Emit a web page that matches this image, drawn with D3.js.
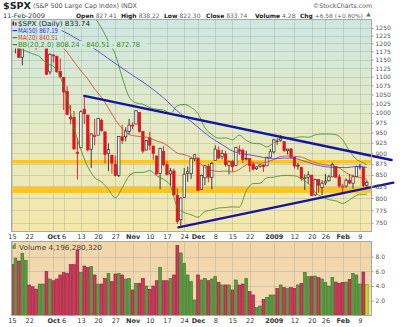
<!DOCTYPE html>
<html><head><meta charset="utf-8">
<script src="https://cdn.jsdelivr.net/npm/d3@7"></script>
<style>body{margin:0;background:#fff}svg{display:block}text{font-family:"DejaVu Sans",Verdana,sans-serif}</style>
</head><body><svg id="c" width="400" height="327"></svg>
<script>
// ---------- DATA ----------
const dates = ["2008-09-15","2008-09-16","2008-09-17","2008-09-18","2008-09-19","2008-09-22","2008-09-23","2008-09-24","2008-09-25","2008-09-26","2008-09-29","2008-09-30",
"2008-10-01","2008-10-02","2008-10-03","2008-10-06","2008-10-07","2008-10-08","2008-10-09","2008-10-10","2008-10-13","2008-10-14","2008-10-15","2008-10-16","2008-10-17","2008-10-20","2008-10-21","2008-10-22","2008-10-23","2008-10-24","2008-10-27","2008-10-28","2008-10-29","2008-10-30","2008-10-31",
"2008-11-03","2008-11-04","2008-11-05","2008-11-06","2008-11-07","2008-11-10","2008-11-11","2008-11-12","2008-11-13","2008-11-14","2008-11-17","2008-11-18","2008-11-19","2008-11-20","2008-11-21","2008-11-24","2008-11-25","2008-11-26","2008-11-28",
"2008-12-01","2008-12-02","2008-12-03","2008-12-04","2008-12-05","2008-12-08","2008-12-09","2008-12-10","2008-12-11","2008-12-12","2008-12-15","2008-12-16","2008-12-17","2008-12-18","2008-12-19","2008-12-22","2008-12-23","2008-12-24","2008-12-26","2008-12-29","2008-12-30","2008-12-31",
"2009-01-02","2009-01-05","2009-01-06","2009-01-07","2009-01-08","2009-01-09","2009-01-12","2009-01-13","2009-01-14","2009-01-15","2009-01-16","2009-01-20","2009-01-21","2009-01-22","2009-01-23","2009-01-26","2009-01-27","2009-01-28","2009-01-29","2009-01-30",
"2009-02-02","2009-02-03","2009-02-04","2009-02-05","2009-02-06","2009-02-09","2009-02-10","2009-02-11"];
const open = [1250.92,1188.31,1210.34,1157.08,1213.11,1255.37,1207.61,1188.79,1187.87,1204.47,1209.07,1113.78,
1164.17,1160.64,1115.16,1097.56,1057.60,988.91,988.42,902.31,912.75,1009.97,994.60,909.53,942.29,943.51,980.40,951.67,899.08,895.22,874.28,848.92,939.51,939.38,953.11,
968.67,971.31,1001.84,952.40,907.44,936.75,917.15,893.39,853.13,904.36,873.23,852.34,859.03,805.87,755.84,801.20,853.40,852.90,886.89,
888.61,817.94,843.60,869.75,844.43,882.71,906.48,892.17,898.35,871.79,881.07,871.53,908.16,905.98,886.96,887.20,874.31,863.87,869.51,872.37,870.58,890.59,
902.99,929.17,931.17,927.45,905.73,909.91,890.40,869.79,867.28,841.99,844.45,849.64,806.77,839.74,822.16,832.50,837.30,845.73,868.89,845.69,
823.09,825.69,837.77,831.75,846.09,868.24,866.87,827.41];
const high = [1250.92,1214.84,1210.34,1211.14,1265.12,1255.37,1213.11,1197.41,1220.03,1215.77,1209.07,1169.33,
1167.03,1160.64,1153.82,1097.56,1072.91,1021.06,1005.25,936.36,1006.93,1044.31,994.60,947.71,984.64,985.40,985.44,951.67,922.83,896.30,893.78,940.51,969.97,963.23,984.38,
975.57,1007.51,1001.84,952.40,931.46,951.95,917.15,893.39,913.01,916.88,882.29,865.90,864.57,820.52,801.20,865.60,868.94,887.68,896.25,
888.61,850.54,873.12,875.60,879.42,918.57,916.26,908.27,904.63,883.24,884.63,914.66,918.85,911.02,905.47,887.37,880.44,869.79,873.74,873.70,891.12,910.32,
934.73,936.63,943.85,927.45,910.00,911.93,890.40,877.02,867.28,851.59,858.13,849.64,841.72,839.74,838.61,852.53,850.45,877.86,868.89,851.66,
830.78,842.60,851.85,850.55,870.75,875.01,868.05,838.22];
const low = [1192.70,1169.28,1155.88,1133.50,1213.11,1205.61,1187.80,1179.79,1187.87,1187.54,1106.39,1106.42,
1140.77,1111.43,1098.14,1007.97,996.23,970.97,909.19,839.80,912.75,972.07,903.99,865.83,918.74,943.51,952.47,875.81,858.44,852.85,846.75,845.27,922.26,928.50,944.59,
958.82,971.31,949.86,899.73,906.90,907.47,884.90,850.48,818.69,869.88,848.98,826.84,806.18,747.78,741.02,801.20,834.99,841.37,881.21,
815.69,817.94,827.60,833.60,818.41,882.71,885.38,885.45,868.73,851.35,857.72,871.53,895.94,877.44,883.02,857.09,860.10,861.44,866.52,857.07,870.58,889.67,
899.35,919.53,927.28,902.37,896.81,888.31,864.32,862.02,836.93,817.04,830.66,804.47,804.30,811.29,806.07,827.69,835.40,845.73,844.15,821.67,
812.87,821.98,829.18,819.91,845.42,861.65,822.99,822.30];
const close = [1192.70,1213.60,1156.39,1206.51,1255.08,1207.09,1188.22,1185.87,1209.18,1213.27,1106.39,1166.36,
1161.06,1114.28,1099.23,1056.89,996.23,984.94,909.92,899.22,1003.35,998.01,907.84,946.43,940.55,985.40,955.05,896.78,908.11,876.77,848.92,940.51,930.09,954.09,968.75,
966.30,1005.75,952.77,904.88,930.99,919.21,898.95,852.30,911.29,873.29,850.75,859.12,806.58,752.44,800.03,851.81,857.39,887.68,896.24,
816.21,848.81,870.74,845.22,876.07,909.70,888.67,899.24,873.59,879.73,868.57,913.18,904.42,885.28,887.88,871.63,863.16,868.15,872.80,869.42,890.64,903.25,
931.80,927.45,934.70,906.65,909.73,890.35,870.26,871.79,842.62,843.74,850.12,805.22,840.24,827.50,831.95,836.57,845.71,874.09,845.14,825.88,
825.44,838.51,832.23,845.85,868.60,869.89,827.16,833.74];
const priorClose = 1251.70;
// volume, billions of shares
const volume = [6.95,7.8,7.4,8.45,7.5,4.14,3.9,3.59,4.27,4.27,5.95,4.95,4.72,4.95,5.5,5.81,5.72,6.9,6.9,8.9,
5.86,6.72,6.54,6.63,5.5,4.27,4.27,5.04,5.72,4.59,5.63,5.72,5.5,4.95,5.04,3.46,4.37,4.37,5.04,4.0,
3.55,4.0,4.72,6.54,4.72,4.72,5.04,5.5,9.5,8.5,7.09,5.5,4.6,2.1,5.5,4.82,5.04,4.72,4.95,5.27,
4.5,4.14,4.14,4.14,3.46,4.82,4.14,4.27,5.04,3.23,2.78,1.05,1.28,2.19,2.46,2.78,2.78,3.68,4.14,3.77,
3.64,3.77,3.68,4.14,4.37,5.86,5.27,5.27,5.36,5.13,4.95,4.45,4.0,5.18,4.54,4.37,4.5,4.54,4.91,5.72,
5.5,4.27,5.9,4.196];
// indicator overlays (sampled at trading-day index)
const bandIdx = [0,2,4,6,8,10,12,14,16,18,20,22,24,26,28,30,32,34,36,38,40,42,44,46,48,50,52,54,56,58,60,62,64,66,68,70,72,74,76,78,80,82,84,86,88,90,92,94,96,98,100,101,102,103];
const ma20 = [1262.1,1253.4,1248.8,1240.7,1232.8,1219.6,1208.3,1195.0,1173.1,1143.8,1116.7,1093.5,1064.7,1042.0,1012.5,982.8,959.9,945.4,941.3,939.5,
936.9,929.1,924.0,912.5,900.2,896.5,890.2,879.7,867.1,860.3,857.7,858.7,856.9,862.3,873.0,877.2,877.0,879.3,885.1,892.2,
893.1,892.5,890.8,884.6,878.2,874.4,871.5,869.5,860.3,850.7,845.6,844.6,842.4,840.5];
const bbUpper = [1313.9,1323.0,1320.8,1313.7,1305.8,1300.2,1286.3,1290.8,1305.7,1326.0,1325.1,1318.5,1285.1,1249.4,1206.5,1165.2,1097.9,1043.2,1026.9,1023.3,
1014.1,1009.9,1007.8,998.9,1019.2,1022.7,1014.6,998.5,961.9,945.1,935.9,936.9,931.9,943.5,930.8,923.4,922.4,914.7,925.1,936.0,
937.3,936.9,939.8,938.2,944.2,946.4,946.3,944.7,931.7,905.1,885.6,881.0,877.2,872.8];
const bbLower = [1210.3,1183.8,1176.8,1167.7,1159.8,1139.0,1130.3,1099.2,1040.5,961.6,908.3,868.5,844.3,834.6,818.5,800.4,821.9,847.6,855.7,855.7,
859.7,848.3,840.2,826.1,781.2,770.3,765.8,760.9,772.3,775.5,779.5,780.5,781.9,781.1,815.2,831.0,831.6,843.9,845.1,848.4,
848.9,848.1,841.8,831.0,812.2,802.4,796.7,794.3,788.9,796.3,805.6,808.2,807.6,808.2];
const ma50Idx = [9,14,19,24,29,34,39,44,49,52,55,58,61,64,67,70,73,76,79,82,85,88,91,94,97,100,103];
const ma50 = [1256.7,1243.0,1213.8,1182.7,1145.8,1110.7,1077.7,1040.5,997.4,978.0,955.9,936.1,920.3,905.2,898.5,894.7,889.9,886.8,888.5,887.6,880.9,873.6,868.5,867.1,866.5,869.4,867.2];
// annotations: [trading-day index, price]
const trendUpper = [[21,1046],[110.2,884]];
const trendLower = [[48.3,741],[110.7,833]];
const bandZones = [[876,884],[811,824]];
// ticks
const priceTicks = [750,775,800,825,850,875,900,925,950,975,1000,1025,1050,1075,1100,1125,1150,1175,1200,1225,1250];
const volTicks = [2,4,6,8];
const volTickLabels = ["2.0","4.0","6.0","8.0"];
const xTickDates = ["2008-09-15","2008-09-22","2008-10-01","2008-10-06","2008-10-13","2008-10-20","2008-10-27","2008-11-03","2008-11-10","2008-11-17","2008-11-24","2008-12-01","2008-12-08","2008-12-15","2008-12-22","2009-01-02","2009-01-12","2009-01-20","2009-01-26","2009-02-02","2009-02-09"];
const xTickLabels = ["15","22","Oct","6","13","20","27","Nov","10","17","24","Dec","8","15","22","2009","12","20","26","Feb","9"];
const boldLabels = new Set(["Oct","Nov","Dec","2009","Feb"]);

// ---------- LAYOUT ----------
const P = {l:11.5, r:371.5, t:19.5, b:231.5};
const V = {t:241.5, b:315.5};
const svg = d3.select("#c");
const x = d3.scaleLinear().domain([0, dates.length-1]).range([12, 366.8]);
const y = d3.scaleLog().domain([750,1250]).range([222.7, 27.9]);
const yv = d3.scaleLinear().domain([0,10]).range([315.4, 241.9]);
const tickIdx = xTickDates.map(d => dates.indexOf(d));

const defs = svg.append("defs");
const gr = defs.append("linearGradient").attr("id","bg").attr("gradientUnits","userSpaceOnUse")
  .attr("x1",0).attr("y1",P.t).attr("x2",0).attr("y2",P.b);
gr.append("stop").attr("offset","0%").attr("stop-color","#cde7e2");
gr.append("stop").attr("offset","45%").attr("stop-color","#e2eac8");
gr.append("stop").attr("offset","100%").attr("stop-color","#f6e7aa");
const gv = defs.append("linearGradient").attr("id","vbg").attr("x1",0).attr("y1",0).attr("x2",0).attr("y2",1);
gv.append("stop").attr("offset","0%").attr("stop-color","#f1d5ab");
gv.append("stop").attr("offset","100%").attr("stop-color","#f4dcb4");
defs.append("clipPath").attr("id","clipP").append("rect").attr("x",P.l).attr("y",P.t).attr("width",P.r-P.l).attr("height",P.b-P.t);
defs.append("clipPath").attr("id","clipV").append("rect").attr("x",P.l).attr("y",V.t).attr("width",P.r-P.l).attr("height",V.b-V.t);

// backgrounds
svg.append("rect").attr("x",P.l).attr("y",P.t).attr("width",P.r-P.l).attr("height",P.b-P.t).attr("fill","url(#bg)");
svg.append("rect").attr("x",P.l).attr("y",V.t).attr("width",P.r-P.l).attr("height",V.b-V.t).attr("fill","url(#vbg)");

// grid
const grid = svg.append("g").attr("stroke","#9aa393").attr("stroke-opacity",0.35).attr("stroke-width",1);
priceTicks.forEach(p => { const yy = Math.round(y(p))+0.5;
  grid.append("line").attr("x1",P.l).attr("x2",P.r).attr("y1",yy).attr("y2",yy); });
tickIdx.forEach(i => { const xx = Math.round(x(i))+0.5;
  grid.append("line").attr("x1",xx).attr("x2",xx).attr("y1",P.t).attr("y2",P.b);
  grid.append("line").attr("x1",xx).attr("x2",xx).attr("y1",V.t).attr("y2",V.b); });
volTicks.forEach(v => { const yy = Math.round(yv(v))+0.5;
  grid.append("line").attr("x1",P.l).attr("x2",P.r).attr("y1",yy).attr("y2",yy); });

const main = svg.append("g").attr("clip-path","url(#clipP)");
// orange support/resistance zones
bandZones.forEach(b => main.append("rect").attr("x",P.l).attr("width",P.r-P.l)
  .attr("y",y(b[1])).attr("height",y(b[0])-y(b[1])).attr("fill","#ffc41f"));

// candles
const cw = 2.4;
dates.forEach((d,i) => {
  const o=open[i], h=high[i], l=low[i], c=close[i];
  const pc = i ? close[i-1] : priorClose;
  const col = c < pc ? "#e3121b" : "#2a2a2a";
  const filled = c < o;
  const cx = x(i);
  main.append("line").attr("x1",cx).attr("x2",cx).attr("y1",y(h)).attr("y2",y(l)).attr("stroke",col).attr("stroke-width",0.9);
  const yt = y(Math.max(o,c)), yb = y(Math.min(o,c));
  main.append("rect").attr("x",cx-cw/2).attr("width",cw).attr("y",yt).attr("height",Math.max(0.8,yb-yt))
    .attr("fill", filled ? col : "#fbf8ee").attr("stroke",col).attr("stroke-width",0.7);
});

// overlays
const line = d3.line().x(d=>x(d[0])).y(d=>y(d[1])).curve(d3.curveMonotoneX);
const ov = (idx, vals, color) => main.append("path").attr("d", line(idx.map((k,j)=>[k, vals[j]])))
  .attr("fill","none").attr("stroke",color).attr("stroke-width",0.8);
ov(bandIdx, bbUpper, "#3c8c2c");
ov(bandIdx, bbLower, "#3c8c2c");
ov(bandIdx, ma20, "#d0402c");
ov(ma50Idx, ma50, "#3a3ad6");

// trend lines (extend past plot edge)
const tl = d3.line().x(d=>x(d[0])).y(d=>y(d[1]));
[trendUpper, trendLower].forEach(t => svg.append("path").attr("d", tl(t)).attr("fill","none")
  .attr("stroke","#1414a0").attr("stroke-width",2.4).attr("stroke-linecap","round"));

// legend boxes covering the plot
const leg = [
  {y0:20, y1:27, w:93, text:"$SPX (Daily) 833.74", col:"#222", len:72},
  {y0:27, y1:34, w:61, text:"MA(50) 867.19", col:"#3535d0", len:40},
  {y0:34, y1:41, w:61, text:"MA(20) 840.51", col:"#e03a2a", len:40},
  {y0:41, y1:48.5, w:146, text:"BB(20,2.0) 808.24 - 840.51 - 872.78", col:"#3a8a2a", len:122}
];
leg.forEach((r,k) => {
  svg.append("rect").attr("x",P.l+0.5).attr("y",r.y0).attr("width",r.w-P.l).attr("height",r.y1-r.y0).attr("fill","url(#bg)");
  svg.append("text").attr("x",18).attr("y",r.y0+6).attr("font-size",7).attr("fill",r.col)
    .attr("textLength",r.len).attr("lengthAdjust","spacingAndGlyphs").text(r.text);
  if (k>0) svg.append("line").attr("x1",12.5).attr("x2",17).attr("y1",r.y0+3.6).attr("y2",r.y0+3.6).attr("stroke",r.col).attr("stroke-width",1.2);
});
// candle icon
svg.append("rect").attr("x",12.5).attr("y",21.5).attr("width",1.6).attr("height",4).attr("fill","#333");
svg.append("rect").attr("x",15).attr("y",22.5).attr("width",1.6).attr("height",3).attr("fill","#e3121b");

// volume
const vg = svg.append("g").attr("clip-path","url(#clipV)");
volume.forEach((v,i) => {
  const up = close[i] >= (i ? close[i-1] : priorClose);
  const last = i === volume.length-1;
  vg.append("rect").attr("x",x(i)-1.4).attr("width",2.8).attr("y",yv(v)).attr("height",yv(0)-yv(v))
    .attr("fill", last ? "#b6e31e" : up ? "#5c9a46" : "#c73c5a")
    .attr("stroke", last ? "#7f9a12" : up ? "#3b7428" : "#9c1636").attr("stroke-width",0.6);
});
svg.append("rect").attr("x",12.5).attr("y",245).attr("width",1.4).attr("height",4).attr("fill","#4f8f3c");
svg.append("rect").attr("x",14.3).attr("y",243.5).attr("width",1.4).attr("height",5.5).attr("fill","#4f8f3c");
svg.append("text").attr("x",19).attr("y",249.6).attr("font-size",7).attr("fill","#444")
  .attr("textLength",83).attr("lengthAdjust","spacingAndGlyphs").text("Volume 4,196,280,320");

// frames
[[P.t,P.b],[V.t,V.b]].forEach(f => svg.append("rect").attr("x",P.l).attr("y",f[0]).attr("width",P.r-P.l).attr("height",f[1]-f[0])
  .attr("fill","none").attr("stroke","#a8a8a8").attr("stroke-width",1));

// axes
const styleAxis = (g, size) => { g.select(".domain").remove();
  g.selectAll("line").attr("stroke","#999");
  g.selectAll("text").attr("font-size",size).attr("fill","#555").attr("font-family","DejaVu Sans, sans-serif"); };
svg.append("g").attr("transform",`translate(${P.r},0)`)
  .call(d3.axisRight(y).tickValues(priceTicks).tickFormat(d3.format("d")).tickSize(2).tickPadding(2))
  .call(g => styleAxis(g, 6));
svg.append("g").attr("transform",`translate(${P.r},0)`)
  .call(d3.axisRight(yv).tickValues(volTicks).tickFormat((d,i)=>volTickLabels[i]).tickSize(2).tickPadding(2))
  .call(g => styleAxis(g, 6));
[P.b, V.b].forEach(yy => svg.append("g").attr("transform",`translate(0,${yy})`)
  .call(d3.axisBottom(x).tickValues(tickIdx).tickFormat((d,i)=>xTickLabels[i]).tickSize(0).tickPadding(3))
  .call(g => { styleAxis(g, 6.5);
    g.selectAll("text").attr("fill","#333").attr("font-weight", d => boldLabels.has(xTickLabels[tickIdx.indexOf(d)]) ? "bold" : "normal"); }));

// header
svg.append("text").attr("x",3).attr("y",9.3).attr("font-size",9.5).attr("font-weight","bold").attr("fill","#222")
  .attr("textLength",28).attr("lengthAdjust","spacingAndGlyphs").text("$SPX");
svg.append("text").attr("x",33).attr("y",8).attr("font-size",6.5).attr("fill","#555")
  .attr("textLength",104).attr("lengthAdjust","spacingAndGlyphs").text("(S&P 500 Large Cap Index) INDX");
svg.append("text").attr("x",313).attr("y",7.5).attr("font-size",6.3).attr("fill","#555")
  .attr("textLength",59).attr("lengthAdjust","spacingAndGlyphs").text("©StockCharts.com");
svg.append("text").attr("x",3).attr("y",17.5).attr("font-size",6.3).attr("fill","#333")
  .attr("textLength",42).attr("lengthAdjust","spacingAndGlyphs").text("11-Feb-2009");
const pairs = [["Open","827.41",76,6],["High","838.22",121,6],["Low","822.30",164,6],["Close","833.74",206,6],["Volume","4.2B",255,6],["Chg","+6.58 (+0.80%)",300,5.9]];
pairs.forEach(p => {
  const lab = svg.append("text").attr("x",p[2]).attr("y",17.5).attr("font-size",p[3]).attr("font-weight","bold").attr("fill","#222").text(p[0]);
  const w = lab.node().getComputedTextLength();
  svg.append("text").attr("x",p[2]+w+2).attr("y",17.5).attr("font-size",p[3]).attr("fill","#666").text(p[1]);
});
svg.append("path").attr("d", d3.symbol(d3.symbolTriangle, 9)()).attr("transform","translate(368.5,15.2)").attr("fill","#2e9a2e");
</script></body></html>
